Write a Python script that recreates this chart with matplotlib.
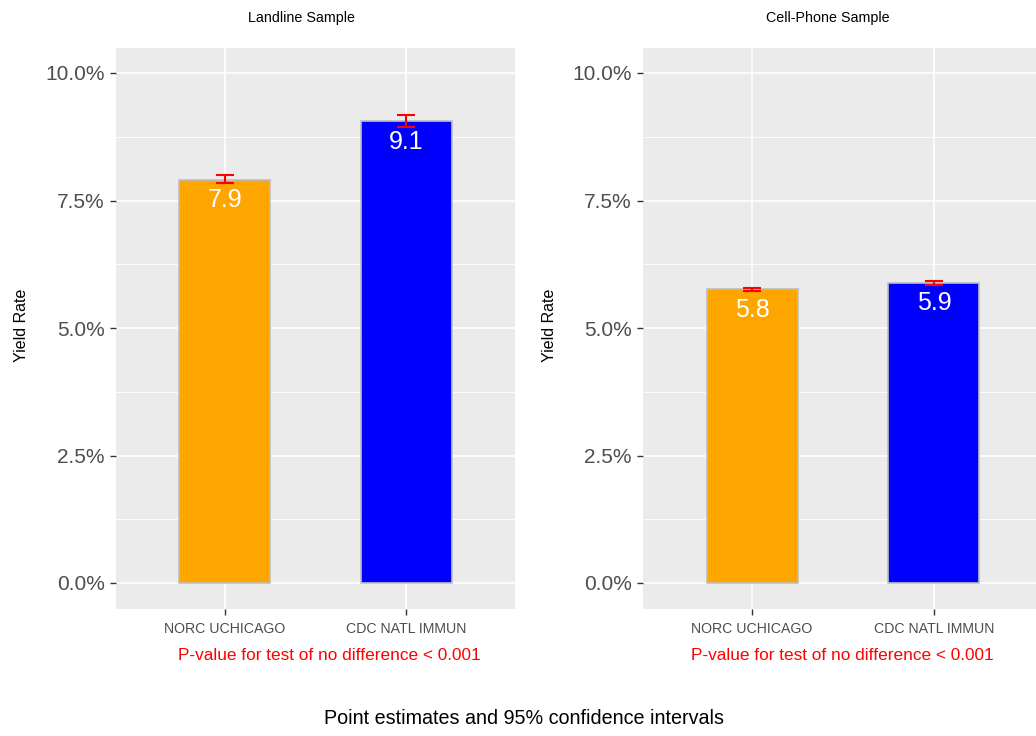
import matplotlib
matplotlib.use("Agg")
import matplotlib.pyplot as plt
from matplotlib.ticker import FuncFormatter, MultipleLocator
import numpy as np

plt.rcParams['font.family'] = ['Liberation Sans', 'DejaVu Sans']

categories = ["NORC UCHICAGO", "CDC NATL IMMUN"]
panel_titles = ["Landline Sample", "Cell-Phone Sample"]
landline_values = [7.90, 9.05]
landline_low = [7.84, 8.94]
landline_high = [8.00, 9.18]
landline_labels = ["7.9", "9.1"]
cell_values = [5.76, 5.88]
cell_low = [5.73, 5.85]
cell_high = [5.79, 5.92]
cell_labels = ["5.8", "5.9"]
bar_colors = ["#FFA500", "#0000FF"]
pvalue_text = "P-value for test of no difference < 0.001"
caption = "Point estimates and 95% confidence intervals"
yticks = [0, 2.5, 5.0, 7.5, 10.0]

W, H = 1036, 736
fig = plt.figure(figsize=(W / 100, H / 100), dpi=100)

def fx(px):
    return px / W

def fy(py):
    return 1 - py / H

panels = [
    (landline_values, landline_low, landline_high, landline_labels, 116, 515, 301, 329, 22),
    (cell_values, cell_low, cell_high, cell_labels, 643, 1043, 828, 842, 550),
]

for (vals, lo, hi, labs, x0, x1, tx, px, ylx), title in zip(panels, panel_titles):
    ax = fig.add_axes([fx(x0), fy(608.5), fx(x1) - fx(x0), fy(47.5) - fy(608.5)])
    ax.set_facecolor("#EBEBEB")
    x = np.arange(1, len(categories) + 1)
    ax.bar(x, vals, width=0.5, color=bar_colors, edgecolor="#BEBEBE", linewidth=1.2, zorder=3)
    vals_a = np.array(vals)
    yerr = np.vstack([vals_a - np.array(lo), np.array(hi) - vals_a])
    ax.errorbar(x, vals, yerr=yerr, fmt="none", ecolor="red", elinewidth=1.5,
                capsize=6.5, capthick=1.5, zorder=4)
    for xi, v, lab in zip(x, vals, labs):
        ax.annotate(lab, (xi, v), xytext=(0, -6), textcoords="offset points",
                    ha="center", va="top", color="white", fontsize=18, zorder=5)
    ax.set_xlim(0.4, 2.6)
    ax.set_ylim(-0.5, 10.5)
    ax.set_yticks(yticks)
    ax.yaxis.set_minor_locator(MultipleLocator(1.25))
    ax.yaxis.set_major_formatter(FuncFormatter(lambda v, p: f"{v:.1f}%"))
    ax.set_xticks(x)
    ax.set_xticklabels(categories)
    ax.grid(which="major", color="white", linewidth=1.2, zorder=0)
    ax.grid(which="minor", axis="y", color="white", linewidth=0.6, zorder=0)
    ax.set_axisbelow(True)
    for s in ax.spines.values():
        s.set_visible(False)
    ax.tick_params(axis="y", which="major", labelsize=15, labelcolor="#4D4D4D",
                   color="#333333", length=4, width=1, pad=4)
    ax.tick_params(axis="y", which="minor", length=0)
    ax.tick_params(axis="x", labelsize=10.2, labelcolor="#4D4D4D", color="#333333",
                   length=4, width=1, pad=6)
    fig.text(fx(tx), fy(18), title, ha="center", va="center", fontsize=10.3, color="black")
    fig.text(fx(px), fy(655), pvalue_text, ha="center", va="center", fontsize=12.4, color="red")
    fig.text(fx(ylx), fy(325), "Yield Rate", ha="center", va="center", rotation=90,
             fontsize=11.5, color="black")

fig.text(fx(524), fy(719), caption, ha="center", va="center", fontsize=14.2, color="black")

fig.savefig("out.png", dpi=100)
